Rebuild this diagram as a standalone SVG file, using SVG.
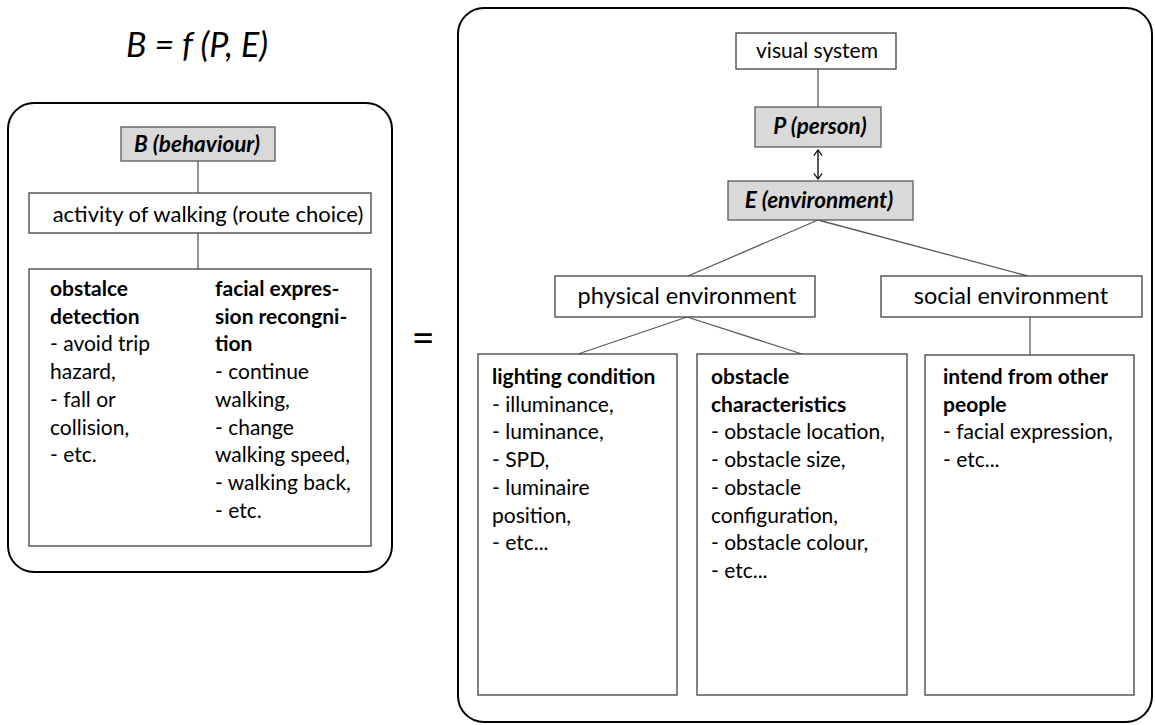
<svg xmlns="http://www.w3.org/2000/svg" width="1155" height="725" viewBox="0 0 1155 725">
<style>
text{font-family:Lato,"Liberation Sans",sans-serif;fill:#000;}
.t{font-size:21px;}
.b{font-size:21px;font-weight:bold;}
.bi{font-size:22.5px;font-weight:bold;font-style:italic;}
.box{fill:#fff;stroke:#404040;stroke-width:1.3;}
.gbox{fill:#d9d9d9;stroke:#595959;stroke-width:1.3;}
.frame{fill:none;stroke:#000;stroke-width:2;}
.con{stroke:#595959;stroke-width:1.3;fill:none;}
</style>
<defs>
<marker id="ah" viewBox="0 0 10 14" refX="9" refY="7" markerWidth="7" markerHeight="12" orient="auto-start-reverse" markerUnits="userSpaceOnUse">
<path d="M1,1 L9,7 L1,13" fill="none" stroke="#000" stroke-width="1.6"/>
</marker>
</defs>

<text x="197" y="57" text-anchor="middle" style="font-size:34px;font-style:italic;">B = f (P, E)</text>
<text x="423" y="352" text-anchor="middle" style="font-size:40px;">=</text>

<g id="frame-left"><rect class="frame" x="8" y="103" width="384" height="469" rx="26"/></g>
<g id="frame-right"><rect class="frame" x="458" y="8" width="694" height="714" rx="26"/></g>

<g id="connectors">
<line class="con" x1="198" y1="161" x2="198" y2="193"/>
<line class="con" x1="198" y1="233" x2="198" y2="269"/>
<line class="con" x1="818" y1="69" x2="818" y2="107"/>
<line x1="818" y1="150" x2="818" y2="179" stroke="#000" stroke-width="1.3" marker-start="url(#ah)" marker-end="url(#ah)"/>
<line class="con" x1="818" y1="220" x2="688" y2="276"/>
<line class="con" x1="818" y1="220" x2="1028" y2="276"/>
<line class="con" x1="687" y1="317" x2="578" y2="354"/>
<line class="con" x1="687" y1="317" x2="802" y2="354"/>
<line class="con" x1="1030" y1="317" x2="1030" y2="355"/>
</g>

<g id="node-behaviour">
<rect class="gbox" x="121" y="127" width="154" height="34"/>
<text class="bi" x="197" y="152" text-anchor="middle">B (behaviour)</text>
</g>
<g id="node-walking">
<rect class="box" x="29" y="193" width="342" height="40"/>
<text x="208" y="222" text-anchor="middle" style="font-size:22px;">activity of walking (route choice)</text>
</g>
<g id="node-tasks">
<rect class="box" x="29" y="269" width="342" height="277"/>
<text class="t" x="50" y="296"><tspan class="b">obstalce</tspan><tspan class="b" x="50" dy="27.7">detection</tspan><tspan x="50" dy="27.7">- avoid trip</tspan><tspan x="50" dy="27.7">hazard,</tspan><tspan x="50" dy="27.7">- fall or</tspan><tspan x="50" dy="27.7">collision,</tspan><tspan x="50" dy="27.7">- etc.</tspan></text>
<text class="t" x="215" y="296"><tspan class="b">facial expres-</tspan><tspan class="b" x="215" dy="27.7">sion recongni-</tspan><tspan class="b" x="215" dy="27.7">tion</tspan><tspan x="215" dy="27.7">- continue</tspan><tspan x="215" dy="27.7">walking,</tspan><tspan x="215" dy="27.7">- change</tspan><tspan x="215" dy="27.7">walking speed,</tspan><tspan x="215" dy="27.7">- walking back,</tspan><tspan x="215" dy="27.7">- etc.</tspan></text>
</g>

<g id="node-visual">
<rect class="box" x="736" y="33" width="160" height="36"/>
<text class="t" x="817" y="58" text-anchor="middle">visual system</text>
</g>
<g id="node-person">
<rect class="gbox" x="755" y="107" width="126" height="40"/>
<text class="bi" x="820" y="134" text-anchor="middle">P (person)</text>
</g>
<g id="node-environment">
<rect class="gbox" x="728" y="181" width="185" height="39"/>
<text class="bi" x="819" y="208" text-anchor="middle">E (environment)</text>
</g>
<g id="node-physical">
<rect class="box" x="555" y="276" width="260" height="41"/>
<text x="687" y="304" text-anchor="middle" style="font-size:23.5px;">physical environment</text>
</g>
<g id="node-social">
<rect class="box" x="881" y="276" width="261" height="41"/>
<text x="1011" y="304" text-anchor="middle" style="font-size:23.5px;">social environment</text>
</g>
<g id="node-lighting">
<rect class="box" x="478" y="354" width="199" height="341"/>
<text class="t" x="492" y="384"><tspan class="b">lighting condition</tspan><tspan x="492" dy="27.7">- illuminance,</tspan><tspan x="492" dy="27.7">- luminance,</tspan><tspan x="492" dy="27.7">- SPD,</tspan><tspan x="492" dy="27.7">- luminaire</tspan><tspan x="492" dy="27.7">position,</tspan><tspan x="492" dy="27.7">- etc...</tspan></text>
</g>
<g id="node-obstacle">
<rect class="box" x="697" y="354" width="210" height="341"/>
<text class="t" x="711" y="384"><tspan class="b">obstacle</tspan><tspan class="b" x="711" dy="27.7">characteristics</tspan><tspan x="711" dy="27.7">- obstacle location,</tspan><tspan x="711" dy="27.7">- obstacle size,</tspan><tspan x="711" dy="27.7">- obstacle</tspan><tspan x="711" dy="27.7">configuration,</tspan><tspan x="711" dy="27.7">- obstacle colour,</tspan><tspan x="711" dy="27.7">- etc...</tspan></text>
</g>
<g id="node-intend">
<rect class="box" x="925" y="355" width="209" height="340"/>
<text class="t" x="943" y="384"><tspan class="b">intend from other</tspan><tspan class="b" x="943" dy="27.7">people</tspan><tspan x="943" dy="27.7">- facial expression,</tspan><tspan x="943" dy="27.7">- etc...</tspan></text>
</g>
</svg>
